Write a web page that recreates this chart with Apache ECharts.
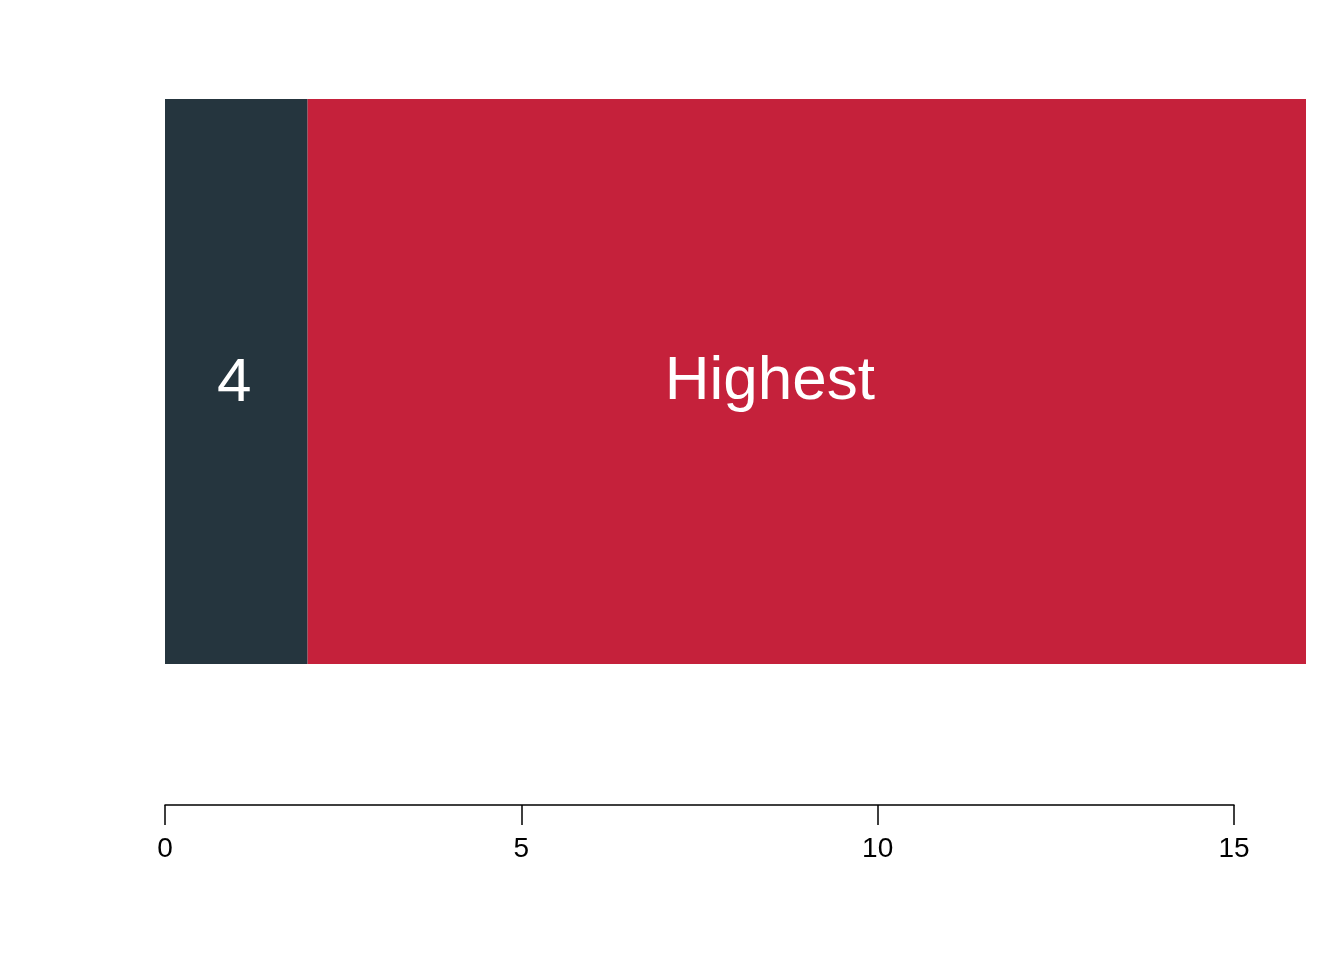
<!DOCTYPE html>
<html><head><meta charset="utf-8">
<script src="https://cdn.jsdelivr.net/npm/echarts@6/dist/echarts.min.js"></script>
<style>html,body{margin:0;background:#fff}#c{width:1344px;height:960px}</style>
</head><body><div id="c"></div>
<script>
const categories = ['row'];
const segLabels = ['4', 'Highest'];
const segValues = [2, 14];
const segColors = ['#25353e', '#c5213b'];
const ticks = [0, 5, 10, 15];
const chart = echarts.init(document.getElementById('c'));
const font = 'Liberation Sans, Arial, sans-serif';
chart.setOption({
  animation: false,
  grid: [
    {left: 165, right: 38, top: 99, bottom: 296},
    {left: 165, width: 1069, top: 700, bottom: 155}
  ],
  xAxis: [
    {gridIndex: 0, type: 'value', min: 0, max: 16, show: false},
    {gridIndex: 1, type: 'value', min: ticks[0], max: ticks[ticks.length-1], interval: 5,
     splitLine: {show: false},
     axisLine: {show: true, lineStyle: {color: '#000', width: 1.5}},
     axisTick: {show: true, length: 20, lineStyle: {color: '#000', width: 1.5}},
     axisLabel: {color: '#000', fontSize: 28, fontFamily: font, margin: 30}}
  ],
  yAxis: [
    {gridIndex: 0, type: 'category', data: categories, show: false},
    {gridIndex: 1, type: 'value', show: false}
  ],
  series: segValues.map((v, i) => ({
    type: 'bar', stack: 's', xAxisIndex: 0, yAxisIndex: 0,
    data: [v], barWidth: '100%',
    itemStyle: {color: segColors[i]},
    label: {show: true, position: 'inside', formatter: segLabels[i], color: '#fff',
      fontSize: 62, fontFamily: font, offset: i === 1 ? [-37, 0] : [-2, 2]}
  }))
});
</script></body></html>
